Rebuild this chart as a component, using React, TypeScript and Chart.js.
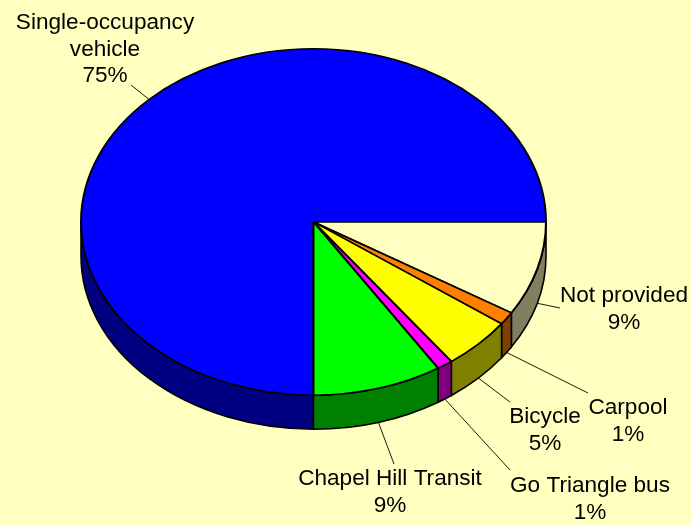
import React, { useEffect, useRef } from "react";
import { Chart, registerables } from "chart.js";

Chart.register(...registerables);

const categories = ["Single-occupancy vehicle", "Not provided", "Carpool", "Bicycle", "Go Triangle bus", "Chapel Hill Transit"];
const shares = [75, 8.8, 1.2, 4.9, 1.1, 9];
const shownPercents = [75, 9, 1, 5, 1, 9];
const topColors = ["#0000FF", "#FFFFC0", "#FF8000", "#FFFF00", "#FF00FF", "#00FF00"];
const sideColors = ["#000080", "#808060", "#804000", "#808000", "#800080", "#008000"];

// Label wrapping and placement
const labelLines = [["Single-occupancy", "vehicle"], ["Not provided"], ["Carpool"], ["Bicycle"], ["Go Triangle bus"], ["Chapel Hill Transit"]];
const labelCentres = [[105, 23], [624, 296], [628, 408], [545, 417], [590, 486], [390, 479]];
const leaderEnds = [[131, 85], [560, 308], [588, 393], [510, 402], [510, 470], [394, 464]];

const BG = "#FFFFC0";
const TILT = 0.745;
const DEPTH = 34;
const CENTRE_Y = 222;
const LINE_H = 26.5;
const FONT = '22.6px "Liberation Sans", Arial, sans-serif';

const pie3d = {
  id: "pie3d",
  beforeDraw(chart: any) {
    const { ctx, width, height } = chart;
    ctx.save();
    ctx.fillStyle = BG;
    ctx.fillRect(0, 0, width, height);
    ctx.restore();
  },
  beforeDatasetsDraw(chart: any) {
    const { ctx } = chart;
    const arcs = chart.getDatasetMeta(0).data;
    ctx.save();
    ctx.lineWidth = 1.6;
    ctx.strokeStyle = "#000";
    arcs.forEach((arc: any, i: number) => {
      const { x, startAngle, endAngle, outerRadius: r } = arc.getProps(["x", "startAngle", "endAngle", "outerRadius"], true);
      const ry = r * TILT;
      for (const base of [0, Math.PI * 2]) {
        const a = Math.max(startAngle, base);
        const b = Math.min(endAngle, base + Math.PI);
        if (b <= a) continue;
        ctx.beginPath();
        ctx.ellipse(x, CENTRE_Y, r, ry, 0, a, b, false);
        ctx.ellipse(x, CENTRE_Y + DEPTH, r, ry, 0, b, a, true);
        ctx.closePath();
        ctx.fillStyle = sideColors[i];
        ctx.fill();
        ctx.stroke();
      }
    });
    ctx.restore();
    ctx.save();
    const cy = arcs[0].y;
    ctx.translate(0, CENTRE_Y);
    ctx.scale(1, TILT);
    ctx.translate(0, -cy);
  },
  afterDatasetsDraw(chart: any) {
    const { ctx } = chart;
    ctx.restore();
    const arcs = chart.getDatasetMeta(0).data;
    ctx.save();
    ctx.font = FONT;
    ctx.textAlign = "center";
    ctx.textBaseline = "middle";
    ctx.strokeStyle = "#000";
    ctx.fillStyle = "#000";
    ctx.lineWidth = 0.9;
    arcs.forEach((arc: any, i: number) => {
      const { x, startAngle, endAngle, outerRadius: r } = arc.getProps(["x", "startAngle", "endAngle", "outerRadius"], true);
      const mid = (startAngle + endAngle) / 2;
      const sx = x + r * Math.cos(mid);
      const sinM = Math.sin(mid);
      const sy = CENTRE_Y + r * TILT * sinM + (sinM > 0 ? DEPTH : 0);
      ctx.beginPath();
      ctx.moveTo(sx, sy);
      ctx.lineTo(leaderEnds[i][0], leaderEnds[i][1]);
      ctx.stroke();
      const lines = [...labelLines[i], `${shownPercents[i]}%`];
      lines.forEach((t: string, k: number) => {
        ctx.fillText(t, labelCentres[i][0], labelCentres[i][1] + k * LINE_H);
      });
    });
    ctx.restore();
  },
};

export default function App() {
  const ref = useRef<HTMLCanvasElement>(null);
  useEffect(() => {
    document.body.style.margin = "0";
    const chart = new Chart(ref.current as HTMLCanvasElement, {
      type: "pie",
      data: {
        labels: categories,
        datasets: [{
          data: shares,
          backgroundColor: topColors,
          borderColor: "#000",
          borderWidth: 2,
          clip: false,
        } as any],
      },
      options: {
        responsive: false,
        animation: false,
        rotation: 180,
        layout: { padding: { left: 80, right: 144, top: 29, bottom: 29 } },
        plugins: { legend: { display: false }, tooltip: { enabled: false } },
      },
      plugins: [pie3d],
    });
    return () => chart.destroy();
  }, []);
  return <canvas ref={ref} width={691} height={525} style={{ display: "block" }} />;
}
